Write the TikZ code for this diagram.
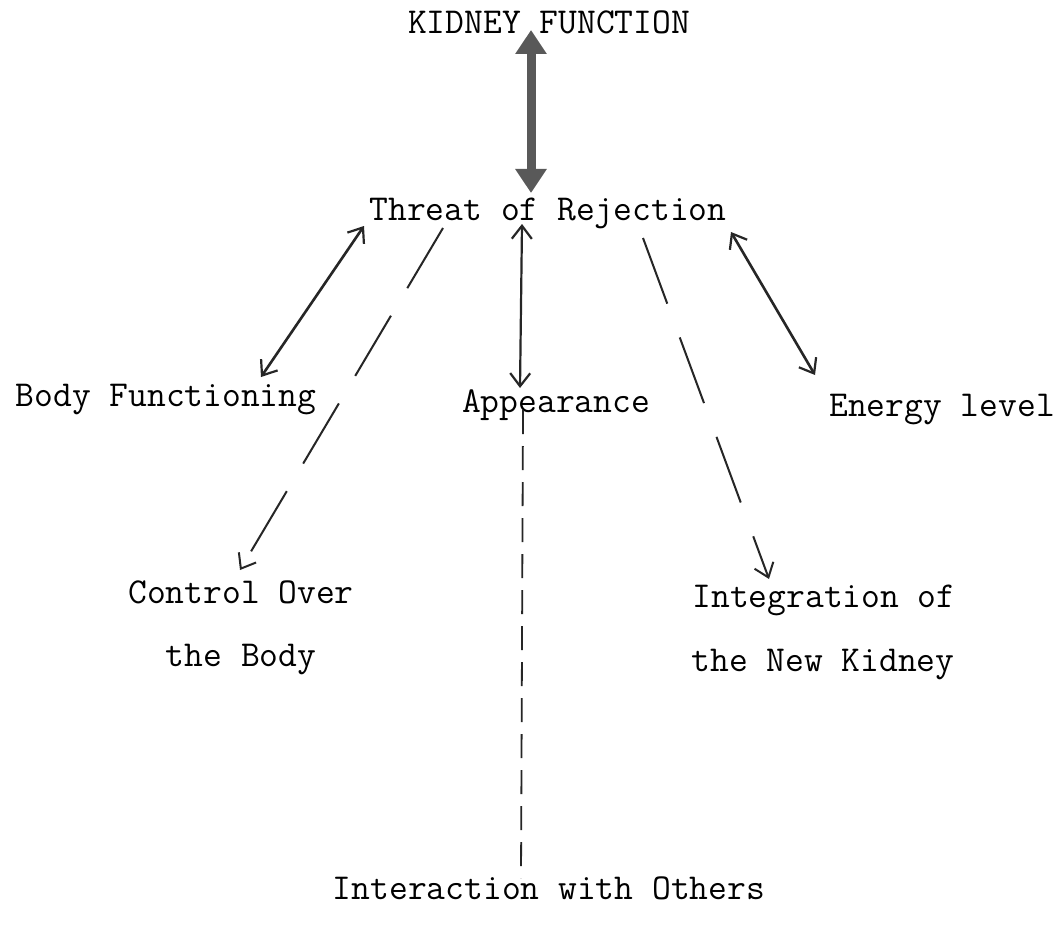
\documentclass[tikz,border=0pt]{standalone}
\usetikzlibrary{arrows.meta}
\begin{document}
\begin{tikzpicture}[x=1pt,y=-1pt,
  lbl/.style={font=\ttfamily\fontsize{36.5}{44}\selectfont, inner sep=0pt, anchor=center, text=black},
  solidarr/.style={draw=black!85, line width=2.6pt, {Straight Barb[length=13pt,width=20pt,line width=2.2pt]}-{Straight Barb[length=13pt,width=20pt,line width=2.2pt]}},
  dasharr/.style={draw=black!85, line width=2pt, -{Straight Barb[length=13pt,width=20pt,line width=2pt]}},
  thickarr/.style={draw=black!65, line width=9pt, {Triangle[length=24pt,width=30pt]}-{Triangle[length=24pt,width=30pt]}}
]
\useasboundingbox (0,0) rectangle (1062,928);
\fill[white] (0,0) rectangle (1062,928);

\node[lbl] (kidney) at (549,22) {KIDNEY FUNCTION};
\node[lbl] (threat) at (548,213) {Threat of Rejection};
\node[lbl] (body) at (166,400) {Body Functioning};
\node[lbl] (appear) at (556,405) {Appearance};
\node[lbl] (energy) at (942,410) {Energy level};
\node[lbl] (control1) at (241,592) {Control Over};
\node[lbl] (control2) at (241,660) {the Body};
\node[lbl] (integ1) at (824,600) {Integration of};
\node[lbl] (integ2) at (823,665) {the New Kidney};
\node[lbl] (inter) at (549,888) {Interaction with Others};

% connector end points
\coordinate (kT) at (531,30);
\coordinate (kB) at (531,193);
\coordinate (bT) at (364,226);
\coordinate (bB) at (261,377);
\coordinate (cT) at (443,228);
\coordinate (cB) at (240,570);
\coordinate (aT) at (522,224);
\coordinate (aB) at (520,388);
\coordinate (iT) at (523,410);
\coordinate (iB) at (521,878);
\coordinate (gT) at (643,238);
\coordinate (gB) at (769,579);
\coordinate (eT) at (731,232);
\coordinate (eB) at (815,375);

\draw[thickarr] (kT) -- (kB);
\draw[solidarr] (bT) -- (bB);
\draw[dasharr, dash pattern=on 70pt off 32pt] (cT) -- (cB);
\draw[solidarr, line width=2.2pt] (aT) -- (aB);
\draw[draw=black!85, line width=1.8pt, dash pattern=on 24pt off 12pt] (iT) -- (iB);
\draw[dasharr, dash pattern=on 70pt off 36pt] (gT) -- (gB);
\draw[solidarr] (eT) -- (eB);
\end{tikzpicture}
\end{document}
